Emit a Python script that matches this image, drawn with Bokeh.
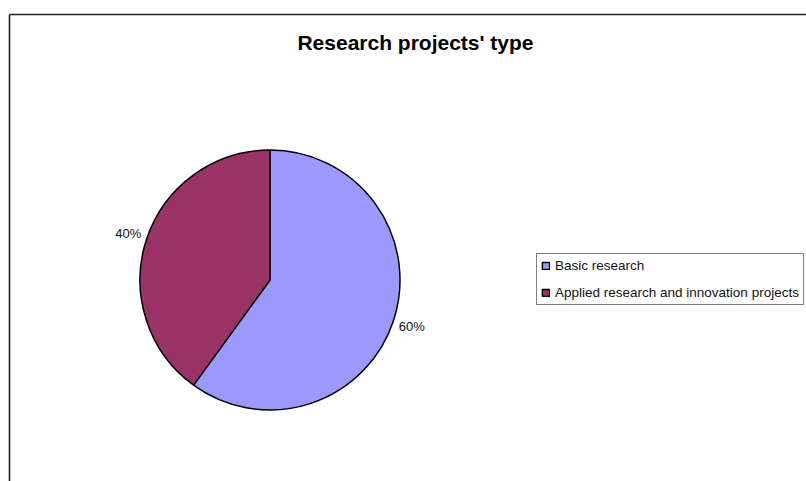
import math
from bokeh.plotting import figure
from bokeh.models import Range1d, Legend, LegendItem, ColumnDataSource
from bokeh.core.properties import value
from bokeh.embed import file_html
from bokeh.resources import INLINE

# data
categories = ["Basic research", "Applied research and innovation projects"]
shares = [60, 40]
colors = ["#9999FF", "#993366"]
title_text = "Research projects' type"

W, H = 806, 481
p = figure(width=W, height=H, output_backend="svg", toolbar_location=None,
           x_range=Range1d(0, W), y_range=Range1d(0, H),
           x_axis_type=None, y_axis_type=None, min_border=0)
p.grid.visible = False
p.outline_line_color = None
p.background_fill_color = "white"
p.border_fill_color = "white"

# chart area border (left & top visible)
p.segment(x0=[9, 9], y0=[0, 467], x1=[9, W], y1=[467, 467], line_color="#222222", line_width=1.6)

cx, cy, r = 269.5, 201.5, 130
total = sum(shares)
starts, ends, lx, ly, labels = [], [], [], [], []
cum = 0
for s in shares:
    a0 = math.pi / 2 - 2 * math.pi * cum / total
    a1 = math.pi / 2 - 2 * math.pi * (cum + s) / total
    mid = (a0 + a1) / 2
    starts.append(a0)
    ends.append(a1)
    lx.append(cx + 149 * math.cos(mid))
    ly.append(cy + 149 * math.sin(mid))
    labels.append(f"{round(100 * s / total)}%")
    cum += s

src = ColumnDataSource(dict(x=[cx] * len(shares), y=[cy] * len(shares), start=starts, end=ends,
                            color=colors, cat=categories))
wr = p.wedge(x="x", y="y", radius=r, start_angle="start", end_angle="end", direction="clock",
             fill_color="color", line_color="black", line_width=1.5, source=src)

p.text(x=lx, y=ly, text=labels, text_align="center", text_baseline="middle",
       text_font=value("Liberation Sans"), text_font_size="13px", text_color="#111111")

p.text(x=[415], y=[439], text=[title_text], text_align="center", text_baseline="middle",
       text_font=value("Liberation Sans"), text_font_style="bold", text_font_size="21px",
       text_color="black")

items = [LegendItem(label=c, renderers=[wr], index=i) for i, c in enumerate(categories)]
legend = Legend(items=items, location=(536, 176), orientation="vertical",
                glyph_width=9, glyph_height=9, label_height=15, spacing=12, padding=4,
                label_standoff=5, margin=0,
                label_text_font="Liberation Sans", label_text_font_size="13.5px",
                label_text_color="#111111",
                border_line_color="black", border_line_width=1,
                background_fill_color="white", background_fill_alpha=1.0)
p.add_layout(legend, "center")

open("out.html", "w").write(file_html(p, INLINE))
